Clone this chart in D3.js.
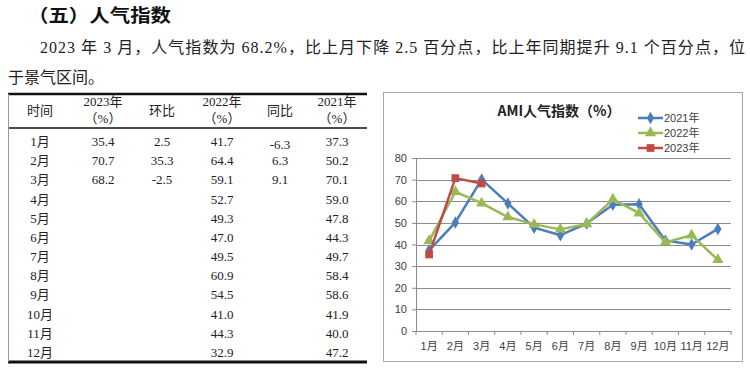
<!DOCTYPE html>
<html lang="zh">
<head>
<meta charset="utf-8">
<title>AMI人气指数</title>
<script type="text/javascript" src="https://d3js.org/d3.v7.min.js"></script>
<style>
body { margin: 0; background: #ffffff; }
svg { display: block; }
.serif { font-family: "Liberation Serif", "Noto Sans CJK SC", serif; fill: #222; }
.cjk { font-family: "Noto Sans CJK SC", sans-serif; }
.chart-txt { font-family: "Liberation Sans", "Noto Sans CJK SC", sans-serif; fill: #404040; font-size: 11px; }
.grid { stroke: #8c8c8c; stroke-width: 1; shape-rendering: crispEdges; }
</style>
</head>
<body>
<div id="container"></div>
<script type="text/javascript">
var w = 750, h = 368;

// data
var months = ["1月","2月","3月","4月","5月","6月","7月","8月","9月","10月","11月","12月"];
var v2021 = [37.3, 50.2, 70.1, 59.0, 47.8, 44.3, 49.7, 58.4, 58.6, 41.9, 40.0, 47.2];
var v2022 = [41.7, 64.4, 59.1, 52.7, 49.3, 47.0, 49.5, 60.9, 54.5, 41.0, 44.3, 32.9];
var v2023 = [35.4, 70.7, 68.2];
var hb = ["2.5", "35.3", "-2.5"];      // 环比
var tb = ["-6.3", "6.3", "9.1"];       // 同比
var yTicks = [0, 10, 20, 30, 40, 50, 60, 70, 80];
var seriesNames = ["2021年", "2022年", "2023年"];

var svg = d3.select("div#container").append("svg")
    .attr("width", w).attr("height", h)
    .attr("viewBox", "0 0 " + w + " " + h)
    .style("background-color", "#ffffff");

// heading + paragraph
svg.append("text").attr("class", "cjk")
    .attr("x", 28).attr("y", 22)
    .attr("textLength", 143).attr("lengthAdjust", "spacingAndGlyphs")
    .style("font-size", "18px").style("font-weight", "bold").style("fill", "#111")
    .text("（五）人气指数");
svg.append("text").attr("class", "serif")
    .attr("x", 40).attr("y", 53)
    .attr("textLength", 705).attr("lengthAdjust", "spacing")
    .style("font-size", "16px")
    .text("2023 年 3 月，人气指数为 68.2%，比上月下降 2.5 百分点，比上年同期提升 9.1 个百分点，位");
svg.append("text").attr("class", "serif")
    .attr("x", 8).attr("y", 83)
    .style("font-size", "16px")
    .text("于景气区间。");

// ---- table ----
var tbl = svg.append("g");
var colX = [40, 103, 162, 222, 280, 337];
var rowY = d3.scaleLinear().domain([0, 11]).range([141, 352]);

tbl.append("line").attr("x1", 8).attr("x2", 367).attr("y1", 94).attr("y2", 94)
    .style("stroke", "#111").style("stroke-width", 2.5);
tbl.append("line").attr("x1", 8).attr("x2", 367).attr("y1", 128).attr("y2", 128)
    .style("stroke", "#111").style("stroke-width", 1.5);
tbl.append("line").attr("x1", 8).attr("x2", 367).attr("y1", 362).attr("y2", 362)
    .style("stroke", "#111").style("stroke-width", 3);
tbl.append("line").attr("x1", 8.5).attr("x2", 8.5).attr("y1", 94).attr("y2", 362)
    .style("stroke", "#999").style("stroke-width", 1);

var hdr = [["时间"], ["2023年", "（%）"], ["环比"], ["2022年", "（%）"], ["同比"], ["2021年", "（%）"]];
hdr.forEach(function(lines, i) {
  lines.forEach(function(t, j) {
    var y = lines.length == 1 ? 115 : 106 + j * 17;
    tbl.append("text").attr("class", "serif")
      .attr("x", colX[i]).attr("y", y)
      .attr("text-anchor", "middle")
      .style("font-size", "13px")
      .text(t);
  });
});

months.forEach(function(m, i) {
  var y = rowY(i) + 5;
  var cells = [m, v2023[i] != null ? v2023[i].toFixed(1) : "", hb[i] || "",
               v2022[i].toFixed(1), tb[i] || "", v2021[i].toFixed(1)];
  cells.forEach(function(c, k) {
    if (c === "") return;
    tbl.append("text").attr("class", "serif")
      .attr("x", colX[k]).attr("y", k == 4 && i == 0 ? y + 3 : y)
      .attr("text-anchor", "middle")
      .style("font-size", "13px")
      .text(c);
  });
});

// ---- chart ----
var ch = svg.append("g");
ch.append("rect").attr("x", 383.5).attr("y", 92.5).attr("width", 359).attr("height", 269)
    .style("fill", "#fff").style("stroke", "#a6a6a6").style("stroke-width", 1);

var x = d3.scaleBand().domain(months).range([416, 731]);
var y = d3.scaleLinear().domain([0, 80]).range([331, 158]);
var cx = function(i) { return x(months[i]) + x.bandwidth() / 2; };

// gridlines
ch.selectAll(".grid").data(yTicks.filter(function(d) { return d > 0; })).enter()
  .append("line").attr("class", "grid")
  .attr("x1", 416).attr("x2", 731)
  .attr("y1", function(d) { return Math.round(y(d)) + 0.5; })
  .attr("y2", function(d) { return Math.round(y(d)) + 0.5; });

// axes
var yAxis = d3.axisLeft(y).tickValues(yTicks).tickSize(4).tickPadding(5);
var gy = ch.append("g").attr("transform", "translate(416,0)").call(yAxis);
var xAxis = d3.axisBottom(x).tickSize(0).tickPadding(11);
var gx = ch.append("g").attr("transform", "translate(0,331)").call(xAxis);
[gy, gx].forEach(function(g) {
  g.select(".domain").style("stroke", "#8c8c8c");
  g.selectAll(".tick line").style("stroke", "#8c8c8c");
  g.selectAll("text").attr("class", "chart-txt").style("font-size", "11px").style("fill", "#404040");
});
// category boundary ticks
ch.selectAll(".btick").data(d3.range(13)).enter().append("line")
  .attr("x1", function(i) { return 416 + i * x.bandwidth(); })
  .attr("x2", function(i) { return 416 + i * x.bandwidth(); })
  .attr("y1", 331).attr("y2", 335)
  .style("stroke", "#8c8c8c");

// title
ch.append("text").attr("class", "cjk")
  .attr("x", 559).attr("y", 116).attr("text-anchor", "middle")
  .style("font-size", "14px").style("font-weight", "bold").style("fill", "#222")
  .text("AMI人气指数（%）");

var colors = ["#4a7ebb", "#98b954", "#be4b48"];
var data = [v2021, v2022, v2023];
var symbols = [d3.symbolDiamond, d3.symbolTriangle, d3.symbolSquare];
var symSize = [45, 55, 60];

var line = d3.line().x(function(d, i) { return cx(i); }).y(function(d) { return y(d); });

data.forEach(function(vals, s) {
  ch.append("path").datum(vals)
    .attr("d", line)
    .style("fill", "none").style("stroke", colors[s]).style("stroke-width", 2.5)
    .style("stroke-linejoin", "round");
  ch.selectAll(".m" + s).data(vals).enter().append("path")
    .attr("d", d3.symbol().type(symbols[s]).size(symSize[s]))
    .attr("transform", function(d, i) { return "translate(" + cx(i) + "," + y(d) + ")"; })
    .style("fill", colors[s]);
});

// legend
var lg = ch.append("g");
seriesNames.forEach(function(n, s) {
  var ly = 118 + s * 15;
  lg.append("line").attr("x1", 638).attr("x2", 663).attr("y1", ly).attr("y2", ly)
    .style("stroke", colors[s]).style("stroke-width", 2.5);
  lg.append("path").attr("d", d3.symbol().type(symbols[s]).size(symSize[s]))
    .attr("transform", "translate(650.5," + ly + ")").style("fill", colors[s]);
  lg.append("text").attr("class", "chart-txt")
    .attr("x", 664).attr("y", ly + 4)
    .text(n);
});
</script>
</body>
</html>
